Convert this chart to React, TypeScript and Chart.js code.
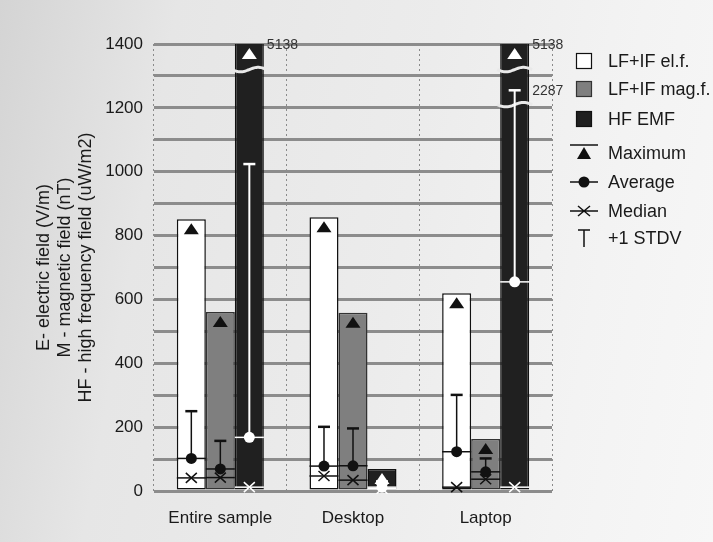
import React, { useEffect, useRef } from "react";
import { Chart, registerables } from "chart.js";

Chart.register(...registerables);

// ---- data ----
const categories = ["Entire sample", "Desktop", "Laptop"];
const seriesLabels = ["LF+IF el.f.", "LF+IF mag.f.", "HF EMF"];
const statLabels = ["Maximum", "Average", "Median", "+1 STDV"];

const elMax = [851, 857, 619];
const magMax = [561, 558, 163];
const hfMax = [5138, 69, 5138];

const elAvg = [102, 78, 123];
const magAvg = [69, 79, 60];
const hfAvg = [168, 12, 655];

const elMedian = [41, 47, 12];
const magMedian = [42, 34, 37];
const hfMedian = [12, 7, 12];

const elStdvTop = [250, 201, 301];
const magStdvTop = [157, 196, 102];
const hfStdvTop = [1024, 30, 2287];

// axis-break positions (axis values) for the off-scale HF bars
const hfBreaks = [[1320], [], [1320, 1210]];
const hfStdvShownAt = [null, null, 1255];

const yTickValues = [0, 200, 400, 600, 800, 1000, 1200, 1400];
const yTitle = [
  "E- electric field (V/m)",
  "M - magnetic field (nT)",
  "HF - high frequency field (uW/m2)",
];

const FONT = "'Liberation Sans', Arial, sans-serif";
const BG = "#e9e9e9";
const FILLS = ["#ffffff", "#7f7f7f", "#202020"];
const BORDERS = ["#111111", "#333333", "#111111"];
const INKS = ["#111111", "#111111", "#ffffff"];

const statSets = [
  { max: elMax, avg: elAvg, med: elMedian, sd: elStdvTop },
  { max: magMax, avg: magAvg, med: magMedian, sd: magStdvTop },
  { max: hfMax, avg: hfAvg, med: hfMedian, sd: hfStdvTop },
];

function triangle(ctx: CanvasRenderingContext2D, cx: number, top: number, hw: number, h: number) {
  ctx.beginPath();
  ctx.moveTo(cx, top);
  ctx.lineTo(cx + hw, top + h);
  ctx.lineTo(cx - hw, top + h);
  ctx.closePath();
  ctx.fill();
}

const overlayPlugin = {
  id: "overlay",
  afterDatasetsDraw(chart: any) {
    const ctx: CanvasRenderingContext2D = chart.ctx;
    const ys = chart.scales.y;
    const area = chart.chartArea;
    const pix = (v: number) => ys.getPixelForValue(Math.min(v, ys.max));
    ctx.save();
    statSets.forEach((s, i) => {
      const meta = chart.getDatasetMeta(i);
      const ink = INKS[i];
      meta.data.forEach((bar: any, j: number) => {
        const x = bar.x;
        const w = bar.width;
        const L = x - w / 2;
        const R = x + w / 2;
        // breaks
        if (i === 2) {
          hfBreaks[j].forEach((b) => {
            const py = ys.getPixelForValue(b);
            ctx.beginPath();
            ctx.strokeStyle = BG;
            ctx.lineWidth = 3;
            const x0 = L - 3;
            const x1 = R + 3;
            for (let k = 0; k <= 30; k++) {
              const xx = x0 + ((x1 - x0) * k) / 30;
              const yy = py + 2.2 * Math.sin((k / 30) * Math.PI * 2);
              if (k === 0) ctx.moveTo(xx, yy);
              else ctx.lineTo(xx, yy);
            }
            ctx.stroke();
          });
        }
        ctx.strokeStyle = ink;
        ctx.fillStyle = ink;
        // maximum triangle
        const topPx = pix(s.max[j]);
        triangle(ctx, x, topPx + 4, 7.5, 11);
        // stdv
        const avgPx = pix(s.avg[j]);
        let sdPx = pix(s.sd[j]);
        if (i === 2 && hfStdvShownAt[j] != null && s.sd[j] > ys.max) {
          sdPx = ys.getPixelForValue(hfStdvShownAt[j] as number);
        }
        ctx.lineWidth = i === 2 ? 2 : 1.5;
        ctx.beginPath();
        ctx.moveTo(x, avgPx);
        ctx.lineTo(x, sdPx);
        ctx.stroke();
        ctx.lineWidth = 2.5;
        ctx.beginPath();
        ctx.moveTo(x - 6, sdPx);
        ctx.lineTo(x + 6, sdPx);
        ctx.stroke();
        // average line + circle
        ctx.lineWidth = 1.5;
        ctx.beginPath();
        ctx.moveTo(L, avgPx);
        ctx.lineTo(R, avgPx);
        ctx.stroke();
        ctx.beginPath();
        ctx.arc(x, avgPx, 5.5, 0, Math.PI * 2);
        ctx.fill();
        // median line + cross
        const medPx = pix(s.med[j]);
        ctx.beginPath();
        ctx.moveTo(L, medPx);
        ctx.lineTo(R, medPx);
        ctx.stroke();
        ctx.beginPath();
        ctx.moveTo(x - 5.5, medPx - 5);
        ctx.lineTo(x + 5.5, medPx + 5);
        ctx.moveTo(x - 5.5, medPx + 5);
        ctx.lineTo(x + 5.5, medPx - 5);
        ctx.stroke();
        // off-scale labels
        ctx.fillStyle = "#333";
        ctx.font = `14px ${FONT}`;
        ctx.textAlign = "left";
        ctx.textBaseline = "middle";
        if (s.max[j] > ys.max) ctx.fillText(String(s.max[j]), R + 3, area.top + 1);
        if (i === 2 && s.sd[j] > ys.max) ctx.fillText(String(s.sd[j]), R + 3, sdPx + 1);
      });
    });
    ctx.restore();
  },
  afterDraw(chart: any) {
    const ctx: CanvasRenderingContext2D = chart.ctx;
    const area = chart.chartArea;
    const sx = area.right + 32;
    const tx = area.right + 56;
    const rows = [61, 89, 119, 153, 182, 211, 238];
    ctx.save();
    ctx.font = `18px ${FONT}`;
    ctx.textBaseline = "middle";
    ctx.textAlign = "left";
    const labels = [...seriesLabels, ...statLabels];
    labels.forEach((lab, k) => {
      const cy = rows[k];
      ctx.fillStyle = "#1a1a1a";
      ctx.fillText(lab, tx, cy + 1);
      if (k < 3) {
        ctx.fillStyle = FILLS[k];
        ctx.fillRect(sx - 7.5, cy - 7.5, 15, 15);
        ctx.strokeStyle = BORDERS[k];
        ctx.lineWidth = 1.2;
        ctx.strokeRect(sx - 7.5, cy - 7.5, 15, 15);
        return;
      }
      ctx.strokeStyle = "#111";
      ctx.fillStyle = "#111";
      ctx.lineWidth = 1.5;
      if (k === 3) {
        ctx.beginPath();
        ctx.moveTo(sx - 14, cy - 8);
        ctx.lineTo(sx + 14, cy - 8);
        ctx.stroke();
        triangle(ctx, sx, cy - 6, 7, 12);
      } else if (k === 4) {
        ctx.beginPath();
        ctx.moveTo(sx - 14, cy);
        ctx.lineTo(sx + 14, cy);
        ctx.stroke();
        ctx.beginPath();
        ctx.arc(sx, cy, 5.5, 0, Math.PI * 2);
        ctx.fill();
      } else if (k === 5) {
        ctx.beginPath();
        ctx.moveTo(sx - 14, cy);
        ctx.lineTo(sx + 14, cy);
        ctx.moveTo(sx - 6, cy - 5);
        ctx.lineTo(sx + 6, cy + 5);
        ctx.moveTo(sx - 6, cy + 5);
        ctx.lineTo(sx + 6, cy - 5);
        ctx.stroke();
      } else {
        ctx.beginPath();
        ctx.moveTo(sx - 6, cy - 8);
        ctx.lineTo(sx + 6, cy - 8);
        ctx.moveTo(sx, cy - 8);
        ctx.lineTo(sx, cy + 9);
        ctx.stroke();
      }
    });
    ctx.restore();
  },
};

export default function App() {
  const ref = useRef<HTMLCanvasElement | null>(null);
  useEffect(() => {
    document.body.style.margin = "0";
    const canvas = ref.current;
    if (!canvas) return;
    const maxVals = [elMax, magMax, hfMax];
    const chart = new Chart(canvas, {
      type: "bar",
      data: {
        labels: categories,
        datasets: seriesLabels.map((lab, i) => ({
          label: lab,
          data: maxVals[i],
          backgroundColor: FILLS[i],
          borderColor: BORDERS[i],
          borderWidth: 1.5,
          borderSkipped: false,
          categoryPercentage: 0.656,
          barPercentage: 1,
        })),
      },
      options: {
        animation: false,
        responsive: false,
        events: [],
        layout: { padding: { top: 44, right: 161, left: 0, bottom: 0 } },
        plugins: { legend: { display: false }, tooltip: { enabled: false } },
        scales: {
          x: {
            offset: true,
            grid: { display: true, offset: true, color: "#8a8a8a", lineWidth: 1, drawTicks: false },
            border: { display: false, dash: [2, 3] },
            ticks: { color: "#1a1a1a", font: { family: FONT, size: 17 }, padding: 17 },
            afterFit: (s: any) => {
              s.height = 51;
            },
          },
          y: {
            min: 0,
            max: 1400,
            grid: { color: "#8c8c8c", lineWidth: 3, drawTicks: false },
            border: { display: false },
            ticks: {
              stepSize: 100,
              padding: 11,
              color: "#1a1a1a",
              font: { family: FONT, size: 17 },
              callback: (v: any) => (yTickValues.includes(Number(v)) ? String(v) : ""),
            },
            title: {
              display: true,
              text: yTitle,
              color: "#1a1a1a",
              font: { family: FONT, size: 18, lineHeight: 1.15 },
              padding: { top: 34, bottom: 0 },
            },
            afterFit: (s: any) => {
              s.width = 154;
            },
          },
        },
      },
      plugins: [overlayPlugin],
    } as any);
    return () => chart.destroy();
  }, []);
  return (
    <div
      style={{
        width: 713,
        height: 542,
        background:
          "linear-gradient(100deg, #d4d4d4 0%, #e6e6e6 22%, #ececec 55%, #f3f3f3 80%, #f7f7f7 100%)",
      }}
    >
      <canvas ref={ref} width={713} height={542} style={{ display: "block" }} />
    </div>
  );
}
